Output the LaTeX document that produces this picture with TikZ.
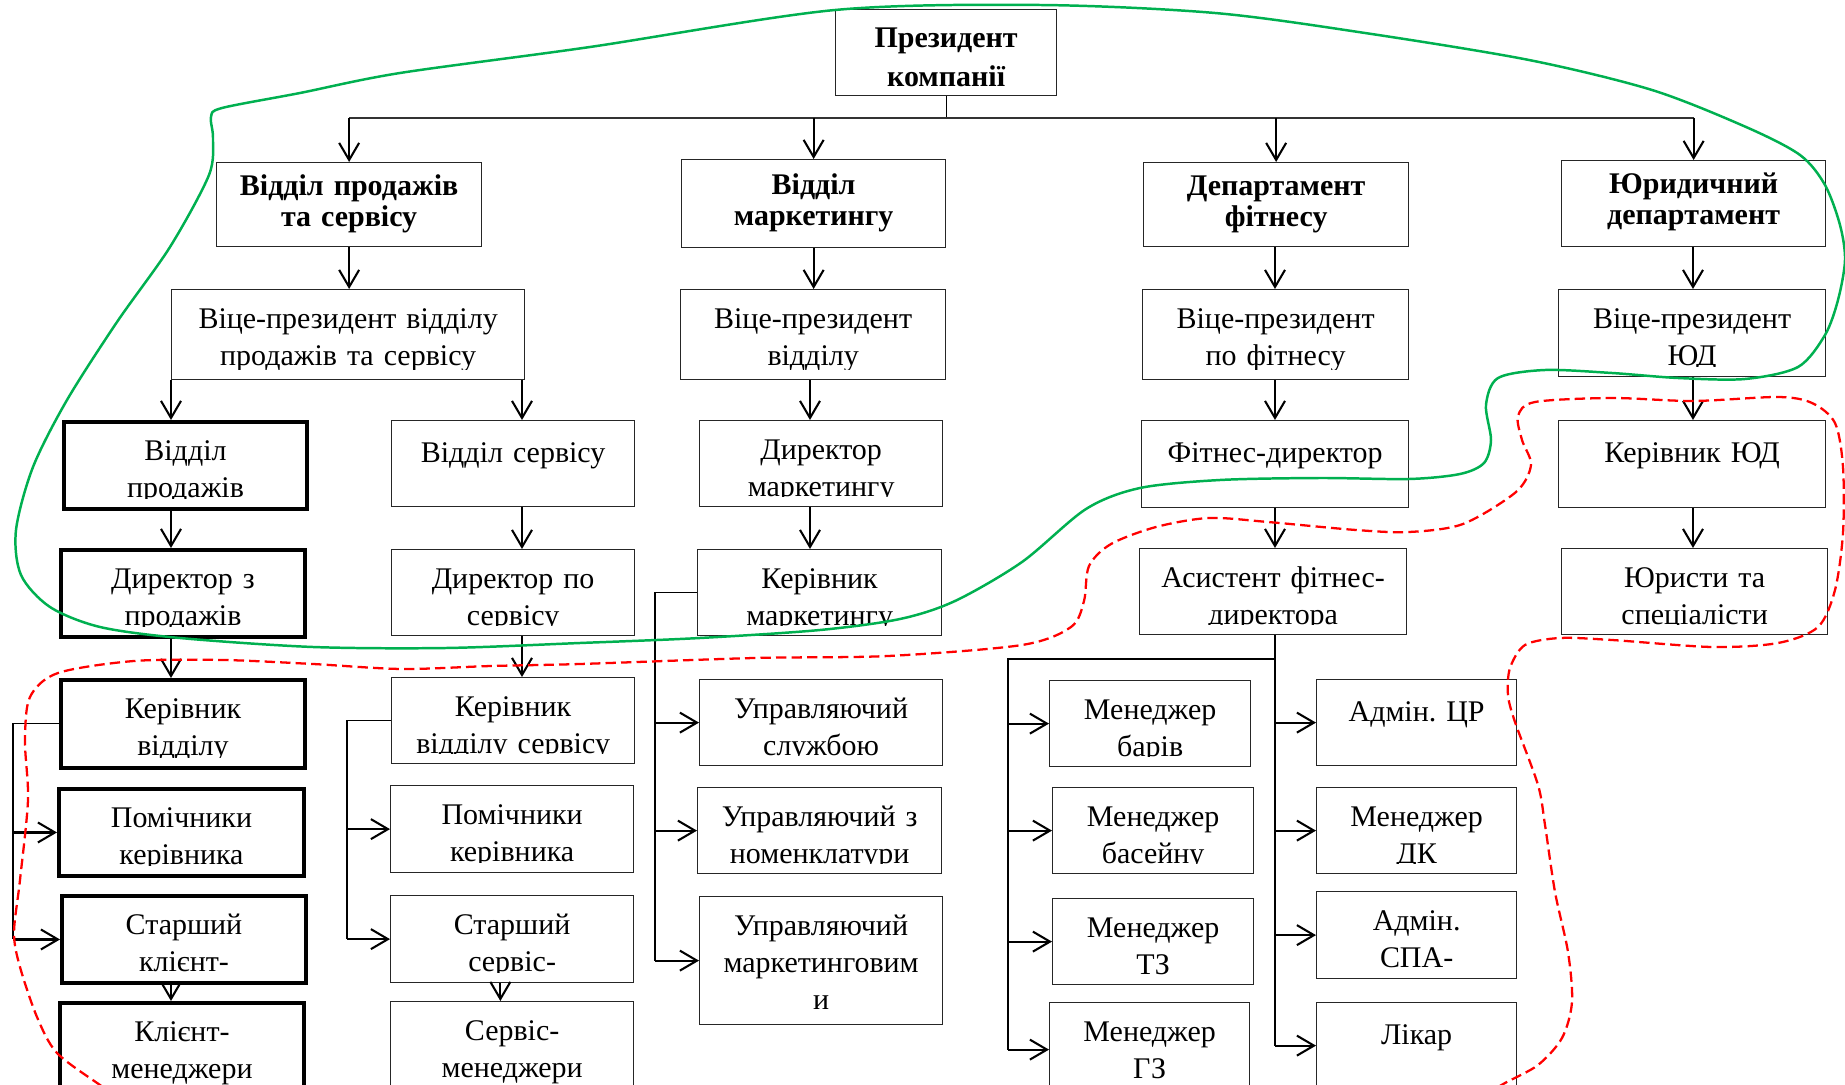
\documentclass[tikz,border=0pt]{standalone}
\usepackage{fontspec}
\setmainfont{Liberation Serif}
\usetikzlibrary{arrows.meta}
\definecolor{loopgreen}{RGB}{0,176,80}
\definecolor{loopred}{RGB}{255,0,0}

\tikzset{
  drop/.store in=\celldrop, drop=0.663cm,
  gap/.store in=\cellgap, gap=0.17cm,
  cellfont/.store in=\cellfont, cellfont=\fontsize{14.5pt}{17.9pt}\selectfont,
  celltxt/.style={anchor=base, text width=6cm, align=center, inner sep=0pt, font=\cellfont},
  cell/.style={draw=black!85, line width=0.6pt, inner sep=0pt, anchor=north west,
    path picture={
      \clip ([yshift=\cellgap]path picture bounding box.south west) rectangle (path picture bounding box.north east);
      \node[celltxt] at ([yshift=-\celldrop]path picture bounding box.north) {#1};}},
  hcell/.style={cell={#1}, drop=0.561cm, cellfont=\fontsize{14.5pt}{15pt}\selectfont\bfseries},
  thickcell/.style={cell={#1}, draw=black, line width=1.9pt},
  link/.style={->, line width=1pt},
  bus/.style={line width=0.5pt},
}

\begin{document}
\begin{tikzpicture}[x=0.017cm,y=-0.017cm,>={Straight Barb[length=0.29cm,width=0.34cm]}]
\useasboundingbox (0,0) rectangle (1845,1085);
\clip (0,0) rectangle (1845,1085);

% top levels
\node[hcell={Президент\\компанії}, drop=0.646cm, gap=0.03cm, cellfont=\fontsize{14.5pt}{18.9pt}\selectfont\bfseries,
  minimum width=3.757cm, minimum height=1.462cm] (pres) at (835,9) {};
\node[hcell={Відділ продажів\\та сервісу}, minimum width=4.505cm, minimum height=1.428cm] (a1) at (216,162) {};
\node[hcell={Відділ\\маркетингу}, drop=0.6cm, minimum width=4.488cm, minimum height=1.496cm] (b1) at (681,159) {};
\node[hcell={Департамент\\фітнесу}, minimum width=4.505cm, minimum height=1.428cm] (c1) at (1143,162) {};
\node[hcell={Юридичний\\департамент}, minimum width=4.488cm, minimum height=1.462cm] (d1) at (1561,160) {};

\node[cell={Віце-президент відділу\\продажів та сервісу}, minimum width=6.001cm, minimum height=1.53cm] (a2) at (171,289) {};
\node[cell={Віце-президент\\відділу}, minimum width=4.505cm, minimum height=1.53cm] (b2) at (680,289) {};
\node[cell={Віце-президент\\по фітнесу}, minimum width=4.522cm, minimum height=1.53cm] (c2) at (1142,289) {};
\node[cell={Віце-президент\\ЮД}, minimum width=4.539cm, minimum height=1.479cm] (d2) at (1558,289) {};

% row 3
\node[thickcell={Відділ\\продажів}, minimum width=4.131cm, minimum height=1.479cm] (a3a) at (62,420) {};
\node[cell={Відділ сервісу}, drop=0.72cm, minimum width=4.131cm, minimum height=1.462cm] (a3b) at (391,420) {};
\node[cell={Директор\\маркетингу}, minimum width=4.131cm, minimum height=1.462cm] (b3) at (699,420) {};
\node[cell={Фітнес-директор}, drop=0.72cm, minimum width=4.539cm, minimum height=1.479cm] (c3) at (1141,420) {};
\node[cell={Керівник ЮД}, drop=0.72cm, minimum width=4.539cm, minimum height=1.479cm] (d3) at (1558,420) {};

% row 4
\node[thickcell={Директор з\\продажів}, minimum width=4.148cm, minimum height=1.479cm] (a4a) at (59,548) {};
\node[cell={Директор по\\сервісу}, minimum width=4.131cm, minimum height=1.462cm] (a4b) at (391,549) {};
\node[cell={Керівник\\маркетингу}, minimum width=4.148cm, minimum height=1.462cm] (b4) at (697,549) {};
\node[cell={Асистент фітнес-\\директора}, minimum width=4.539cm, minimum height=1.462cm] (c4) at (1139,548) {};
\node[cell={Юристи та\\спеціалісти}, minimum width=4.522cm, minimum height=1.462cm] (d4) at (1561,548) {};

% row 5
\node[thickcell={Керівник\\відділу}, minimum width=4.148cm, minimum height=1.496cm] (a5a) at (59,678) {};
\node[cell={Керівник\\відділу сервісу}, minimum width=4.131cm, minimum height=1.462cm] (a5b) at (391,677) {};
\node[cell={Управляючий\\службою}, minimum width=4.131cm, minimum height=1.462cm] (b5) at (699,679) {};
\node[cell={Менеджер\\барів}, minimum width=3.417cm, minimum height=1.462cm] (c5l) at (1049,680) {};
\node[cell={Адмін.\ ЦР}, drop=0.72cm, minimum width=3.4cm, minimum height=1.462cm] (c5r) at (1316,679) {};

% row 6
\node[thickcell={Помічники\\керівника}, minimum width=4.165cm, minimum height=1.479cm] (a6a) at (57,787) {};
\node[cell={Помічники\\керівника}, minimum width=4.131cm, minimum height=1.479cm] (a6b) at (390,785) {};
\node[cell={Управляючий з\\номенклатури}, minimum width=4.148cm, minimum height=1.462cm] (b6) at (697,787) {};
\node[cell={Менеджер\\басейну}, minimum width=3.417cm, minimum height=1.462cm] (c6l) at (1052,787) {};
\node[cell={Менеджер\\ДК}, minimum width=3.4cm, minimum height=1.462cm] (c6r) at (1316,787) {};

% row 7
\node[thickcell={Старший\\клієнт-}, minimum width=4.148cm, minimum height=1.479cm] (a7a) at (60,894) {};
\node[cell={Старший\\сервіс-}, minimum width=4.131cm, minimum height=1.479cm] (a7b) at (390,895) {};
\node[cell={Управляючий\\маркетинговим\\и}, minimum width=4.131cm, minimum height=2.176cm] (b7) at (699,896) {};
\node[cell={Менеджер\\ТЗ}, minimum width=3.417cm, minimum height=1.462cm] (c7l) at (1052,898) {};
\node[cell={Адмін.\\СПА-}, minimum width=3.4cm, minimum height=1.479cm] (c7r) at (1316,891) {};

% row 8
\node[thickcell={Клієнт-\\менеджери}, minimum width=4.148cm, minimum height=1.7cm] (a8a) at (58,1001) {};
\node[cell={Сервіс-\\менеджери}, minimum width=4.131cm, minimum height=1.7cm] (a8b) at (390,1001) {};
\node[cell={Менеджер\\ГЗ}, minimum width=3.4cm, minimum height=1.598cm] (c8l) at (1049,1002) {};
\node[cell={Лікар}, drop=0.72cm, minimum width=3.4cm, minimum height=1.462cm] (c8r) at (1316,1002) {};

% connectors
\coordinate (topbus) at (942,118);
\coordinate (salesx) at (171,0);
\coordinate (servx) at (522,0);
\coordinate (mktx) at (810,0);
\coordinate (fitx) at (1275,0);
\coordinate (lawx) at (1693,0);
\coordinate (salesbus) at (13,0);
\coordinate (servbus) at (347,0);
\coordinate (mktbus) at (655,0);
\coordinate (fitbus) at (1008,659);

\draw[bus] (pres.south) -- (pres.south |- topbus);
\draw[line width=0.8pt, black!80] (a1.north |- topbus) -- (d1.north |- topbus);
\foreach \n in {a1,b1,c1,d1}
  \draw[link] (\n.north |- topbus) -- (\n.north);

\draw[link] (a1.south) -- (a1.south |- a2.north);
\draw[link] (a2.south -| salesx) -- (a3a.north -| salesx);
\draw[link] (a3a.south -| salesx) -- (a4a.north -| salesx);
\draw[link] (a4a.south -| salesx) -- (a5a.north -| salesx);
\draw[link] (a7a.south -| salesx) -- (a8a.north -| salesx);
\draw[bus] (a5a.west) -| (salesbus |- a7a.west);
\foreach \n in {a6a,a7a}
  \draw[link] (salesbus |- \n.west) -- (\n.west);

\draw[link] (a2.south -| servx) -- (a3b.north -| servx);
\draw[link] (a3b.south -| servx) -- (a4b.north -| servx);
\draw[link] (a4b.south -| servx) -- (a5b.north -| servx);
\draw[link] ([xshift=-0.2cm]a7b.south) -- ([xshift=-0.2cm]a8b.north);
\draw[bus] (a5b.west) -| (servbus |- a7b.west);
\foreach \n in {a6b,a7b}
  \draw[link] (servbus |- \n.west) -- (\n.west);

\draw[link] (b1.south) -- (b1.south |- b2.north);
\draw[link] (b2.south -| mktx) -- (b3.north -| mktx);
\draw[link] (b3.south -| mktx) -- (b4.north -| mktx);
\draw[bus] (b4.west) -| (mktbus |- b7.west);
\foreach \n in {b5,b6,b7}
  \draw[link] (mktbus |- \n.west) -- (\n.west);

\draw[link] (c1.south -| fitx) -- (c2.north -| fitx);
\draw[link] (c2.south -| fitx) -- (c3.north -| fitx);
\draw[link] (c3.south -| fitx) -- (c4.north -| fitx);
\draw[bus] (c4.south -| fitx) -- (fitx |- c8r.west);
\draw[bus] (fitx |- fitbus) -- (fitbus) -- (fitbus |- c8l.west);
\foreach \n in {c5l,c6l,c7l,c8l}
  \draw[link] (fitbus |- \n.west) -- (\n.west);
\foreach \n in {c5r,c6r,c7r,c8r}
  \draw[link] (fitx |- \n.west) -- (\n.west);

\draw[link] (d1.south -| lawx) -- (d2.north -| lawx);
\draw[link] (d2.south -| lawx) -- (d3.north -| lawx);
\draw[link] (d3.south -| lawx) -- (d4.north -| lawx);

% outlines
\draw[loopgreen, line width=1.2pt] plot[smooth cycle, tension=0.5] coordinates {
  (1040,5) (835,10) (590,47) (400,73) (300,93) (222,108) (211,117) (213,138) (209,175)
  (170,247) (117,322) (67,400) (33,467) (16,530) (21,575) (50,607) (100,627) (180,638)
  (313,647) (446,648) (580,643) (700,638) (820,630) (900,619) (955,601) (1022,562)
  (1086,509) (1140,488) (1220,480) (1320,478) (1409,479) (1460,474) (1484,463)
  (1491,440) (1486,405) (1498,378) (1545,370) (1612,373) (1678,378) (1745,379)
  (1798,367) (1825,335) (1838,300) (1845,260) (1840,225) (1825,185) (1800,155)
  (1746,127) (1652,90) (1529,60) (1365,33) (1215,13)};
\draw[loopred, line width=1.1pt, dash pattern=on 5pt off 2.5pt] plot[smooth, tension=0.5] coordinates {
  (1485,1095) (1505,1083) (1538,1065) (1562,1038) (1572,1002) (1568,952) (1555,892)
  (1545,825) (1538,785) (1515,722) (1508,695) (1510,668) (1525,645) (1560,638)
  (1612,640) (1712,647) (1778,643) (1818,627) (1835,590) (1843,533) (1843,467)
  (1835,423) (1812,403) (1778,397) (1693,401) (1612,398) (1535,402) (1518,416)
  (1522,440) (1531,465) (1516,492) (1463,524) (1409,532) (1356,530) (1268,522)
  (1209,518) (1156,527) (1111,544) (1089,566) (1084,601) (1071,627) (1022,645)
  (888,656) (754,658) (580,664) (491,666) (402,669) (313,664) (223,660) (134,661)
  (58,673) (30,697) (25,741) (28,800) (20,880) (14,933) (20,967) (37,1017) (57,1053)
  (100,1085) (115,1095)};
\end{tikzpicture}
\end{document}
